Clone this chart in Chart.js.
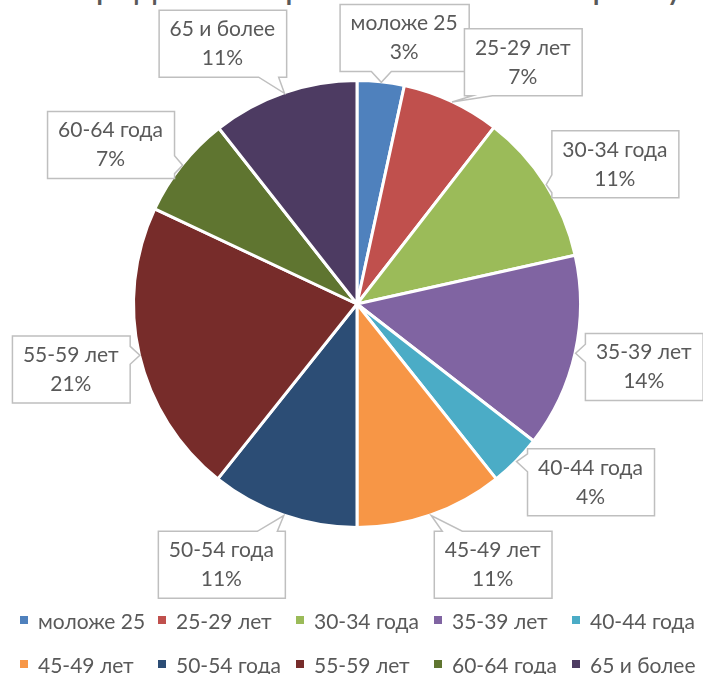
<!DOCTYPE html>
<html>
<head>
<meta charset="utf-8">
<script src="https://cdn.jsdelivr.net/npm/chart.js@4.4.1/dist/chart.umd.min.js"></script>
<style>
    html, body { margin: 0; padding: 0; background: #fff; overflow: hidden; }
    #wrap { position: relative; width: 703px; height: 674px; overflow: hidden; }
    #title { position: absolute; left: 0; top: -35px; width: 703px; text-align: center;
             font: 36px Lato, sans-serif; line-height: 40px; color: #595959; white-space: nowrap; }
    #chartBox { position: absolute; left: 0; top: 0; width: 703px; height: 674px; }
    #legend { position: absolute; left: 20px; top: 598px; width: 690px;
              font: 21px Lato, sans-serif; color: #595959; }
    .row { display: flex; height: 44px; align-items: center; }
    .item { width: 139px; display: flex; align-items: center; white-space: nowrap; }
    .sw { width: 8px; height: 8px; margin-right: 10px; flex: none; }
</style>
</head>
<body>
<div id="wrap">
    <div id="title">Распределение работников по возрасту</div>
    <div id="chartBox"><canvas id="pieChart"></canvas></div>
    <div id="legend"></div>
</div>
<script>
    const ageGroups = ['моложе 25', '25-29 лет', '30-34 года', '35-39 лет', '40-44 года',
                       '45-49 лет', '50-54 года', '55-59 лет', '60-64 года', '65 и более'];
    const shares = [3.4, 7.1, 11.0, 14.0, 3.8, 10.7, 10.7, 21.3, 7.4, 10.6];
    const sliceColors = ['#4F81BD', '#C0504D', '#9BBB59', '#8064A2', '#4BACC6',
                         '#F79646', '#2C4D75', '#772C2A', '#5F7530', '#4D3B62'];

    const textColor = '#595959';

    // Excel-like callout labels with a pointer tail
    const calloutLabels = {
        id: 'calloutLabels',
        afterDatasetsDraw(chart) {
            const ctx = chart.ctx;
            const meta = chart.getDatasetMeta(0);
            const total = shares.reduce((a, b) => a + b, 0);
            ctx.save();
            ctx.font = '21px Lato, sans-serif';

            meta.data.forEach((arc, i) => {
                const p = arc.getProps(['x', 'y', 'startAngle', 'endAngle', 'outerRadius'], true);
                const mid = (p.startAngle + p.endAngle) / 2;
                const a = mid + Math.PI / 2;              // angle from 12 o'clock, clockwise
                // push labels near top/bottom away from the vertical axis
                const la = a + 0.26 * Math.sin(2 * a) * Math.cos(a) * Math.cos(a);

                const lines = [ageGroups[i], Math.round(shares[i] / total * 100) + '%'];
                const w = Math.max(...lines.map(t => ctx.measureText(t).width)) + 22;
                const h = 67;
                const dist = p.outerRadius + 70;
                const cx = p.x + dist * Math.sin(la);
                const cy = p.y - dist * Math.cos(la);
                const l = Math.min(Math.max(cx - w / 2, 1), chart.width - w + 1);
                const t = Math.min(Math.max(cy - h / 2, 4), chart.height - h);
                const r = l + w, b = t + h;

                const tip = {
                    x: p.x + p.outerRadius * Math.cos(mid),
                    y: p.y + p.outerRadius * Math.sin(mid)
                };

                const clamp = (v, lo, hi) => Math.min(Math.max(v, lo), hi);
                const pts = [];
                if (tip.y > b) {
                    const bx = clamp(tip.x, l + 18, r - 18);
                    pts.push([l, t], [r, t], [r, b], [bx + 10, b], [tip.x, tip.y], [bx - 10, b], [l, b]);
                } else if (tip.y < t) {
                    const bx = clamp(tip.x, l + 18, r - 18);
                    pts.push([l, t], [bx - 10, t], [tip.x, tip.y], [bx + 10, t], [r, t], [r, b], [l, b]);
                } else if (tip.x < l) {
                    const by = clamp(tip.y, t + 14, b - 14);
                    pts.push([l, t], [r, t], [r, b], [l, b], [l, by + 9], [tip.x, tip.y], [l, by - 9]);
                } else {
                    const by = clamp(tip.y, t + 14, b - 14);
                    pts.push([l, t], [r, t], [r, by - 9], [tip.x, tip.y], [r, by + 9], [r, b], [l, b]);
                }

                ctx.beginPath();
                pts.forEach((pt, k) => k ? ctx.lineTo(pt[0] + 0.5, pt[1] + 0.5) : ctx.moveTo(pt[0] + 0.5, pt[1] + 0.5));
                ctx.closePath();
                ctx.fillStyle = '#fff';
                ctx.fill();
                ctx.strokeStyle = '#BFBFBF';
                ctx.lineWidth = 1.5;
                ctx.stroke();

                ctx.fillStyle = textColor;
                ctx.textAlign = 'center';
                ctx.textBaseline = 'middle';
                ctx.fillText(lines[0], l + w / 2, t + h / 2 - 14);
                ctx.fillText(lines[1], l + w / 2, t + h / 2 + 15);
            });
            ctx.restore();
        }
    };

    const pieChart = new Chart(document.getElementById('pieChart'), {
        type: 'pie',
        data: {
            labels: ageGroups,
            datasets: [{
                data: shares,
                backgroundColor: sliceColors,
                borderColor: '#fff',
                borderWidth: 3
            }]
        },
        options: {
            responsive: true,
            maintainAspectRatio: false,
            animation: false,
            layout: { padding: { left: 132, right: 121, top: 79, bottom: 145 } },
            plugins: {
                legend: { display: false },
                tooltip: { enabled: false }
            }
        },
        plugins: [calloutLabels]
    });

    // HTML legend built from the chart data, two rows of five
    function buildLegend(chart) {
        const legend = document.getElementById('legend');
        const labels = chart.data.labels;
        const colors = chart.data.datasets[0].backgroundColor;
        for (let row = 0; row < 2; row++) {
            const rowDiv = document.createElement('div');
            rowDiv.className = 'row';
            for (let i = row * 5; i < row * 5 + 5; i++) {
                rowDiv.insertAdjacentHTML('beforeend',
                    `<div class="item"><span class="sw" style="background:${colors[i]}"></span>${labels[i]}</div>`);
            }
            legend.appendChild(rowDiv);
        }
    }

    buildLegend(pieChart);
</script>
</body>
</html>
